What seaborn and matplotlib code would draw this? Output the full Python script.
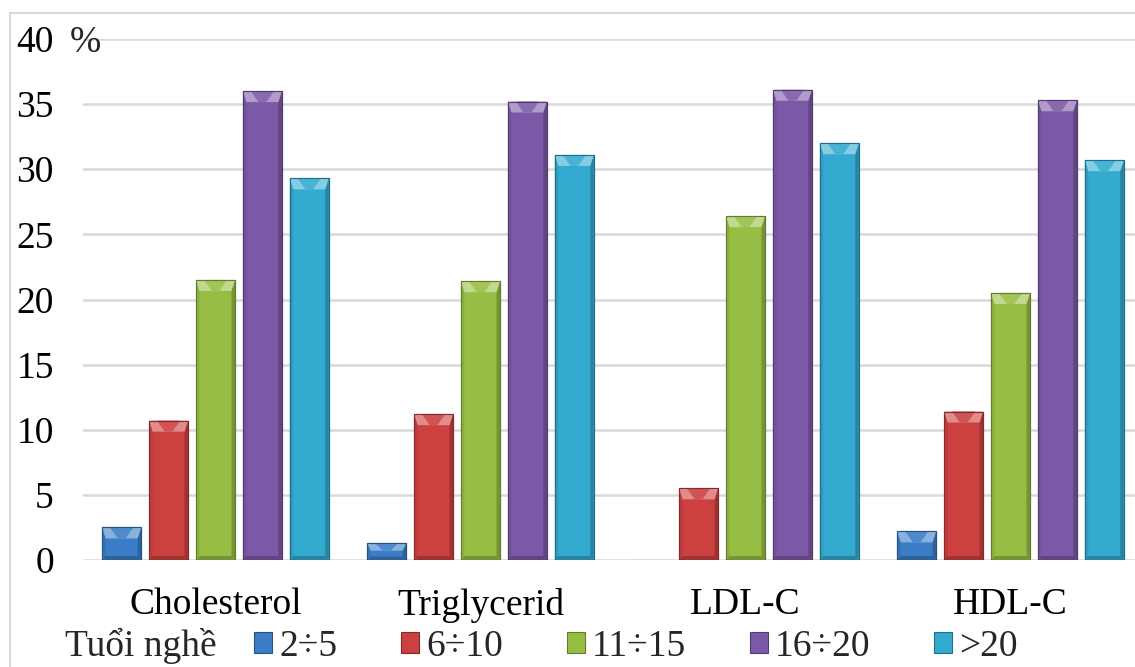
import numpy as np
import pandas as pd
import seaborn as sns
import matplotlib
matplotlib.use("Agg")
import matplotlib.pyplot as plt
from matplotlib.patches import Polygon, Rectangle, Patch
from matplotlib.colors import to_rgb

# ---- data -------------------------------------------------------------
chi_so = ["Cholesterol", "Triglycerid", "LDL-C", "HDL-C"]
nhom_tuoi_nghe = ["2÷5", "6÷10", "11÷15", "16÷20", ">20"]
v_2_5 = [2.5, 1.3, 0.0, 2.2]
v_6_10 = [10.7, 11.2, 5.5, 11.4]
v_11_15 = [21.5, 21.4, 26.4, 20.5]
v_16_20 = [36.0, 35.2, 36.1, 35.3]
v_tren_20 = [29.3, 31.1, 32.0, 30.7]
y_ticks = [0, 5, 10, 15, 20, 25, 30, 35, 40]

colors = ["#3b7dc6", "#cc4040", "#97be44", "#7c59a6", "#33abd0"]

series = [v_2_5, v_6_10, v_11_15, v_16_20, v_tren_20]
df = pd.DataFrame(
    [(c, g, vals[i]) for g, vals in zip(nhom_tuoi_nghe, series) for i, c in enumerate(chi_so)],
    columns=["chi_so", "tuoi_nghe", "ty_le"],
)

# ---- style ------------------------------------------------------------
sns.set_theme(style="white")
plt.rcParams["font.family"] = ["Liberation Serif", "DejaVu Serif"]
FS = 27

W, H = 1135, 667
fig = plt.figure(figsize=(W / 100, H / 100), dpi=100)
ax = fig.add_axes([83 / W, (H - 560) / H, 1060 / W, 521 / H])

sns.barplot(
    data=df, x="chi_so", y="ty_le", hue="tuoi_nghe",
    order=chi_so, hue_order=nhom_tuoi_nghe, palette=colors,
    width=0.885, dodge=True, saturation=1, legend=False, ax=ax,
)

ax.set_xlim(-0.5, 3.5)
ax.set_ylim(0, 40)
ax.set_yticks(y_ticks)
ax.set_yticklabels([str(t) for t in y_ticks], fontsize=FS, color="black")
ax.tick_params(axis="y", length=0, pad=21)
ax.tick_params(axis="x", length=0, pad=20, labelsize=FS, labelcolor="black")
ax.set_xlabel("")
ax.set_ylabel("")
for s in ax.spines.values():
    s.set_visible(False)
ax.yaxis.grid(True, color="#d9d9d9", lw=1.8)
ax.set_axisbelow(True)

# unit "%" beside the top tick
ax.annotate("%", xy=(0, 40), xycoords=("axes fraction", "data"),
            xytext=(-9.5, 0), textcoords="offset points",
            ha="left", va="center_baseline", fontsize=FS)


def mix(c, other, t):
    a = np.array(to_rgb(c))
    b = np.array(to_rgb(other))
    return tuple(a * (1 - t) + b * t)


# ---- narrow the bars and give them a bevelled look ------------------
x_per_px = 4.0 / 1060
y_per_px = 40.0 / 521
for container, col in zip(ax.containers, colors):
    light = mix(col, "white", 0.40)
    mid = mix(col, "white", 0.10)
    dark = mix(col, "black", 0.22)
    edge = mix(col, "black", 0.35)
    for p in container:
        cx = p.get_x() + p.get_width() / 2
        w = p.get_width() * 39 / 47
        p.set_width(w)
        p.set_x(cx - w / 2)
        h = p.get_height()
        p.set_edgecolor(edge)
        p.set_linewidth(0.8)
        if h <= 0:
            continue
        x0, x1 = cx - w / 2, cx + w / 2
        sx = 3.5 * x_per_px
        tb = min(11 * y_per_px, h * 0.45)
        bb = min(4 * y_per_px, h * 0.2)
        z = p.get_zorder() + 0.1
        # side facets
        ax.add_patch(Polygon([(x0, 0), (x0 + sx, bb), (x0 + sx, h - tb), (x0, h)],
                             closed=True, fc=mix(col, "black", 0.08), ec="none", zorder=z))
        ax.add_patch(Polygon([(x1, 0), (x1 - sx, bb), (x1 - sx, h - tb), (x1, h)],
                             closed=True, fc=dark, ec="none", zorder=z))
        # bottom facet
        ax.add_patch(Polygon([(x0, 0), (x1, 0), (x1 - sx, bb), (x0 + sx, bb)],
                             closed=True, fc=dark, ec="none", zorder=z))
        # top facet
        ax.add_patch(Polygon([(x0, h), (x1, h), (x1 - sx, h - tb), (x0 + sx, h - tb)],
                             closed=True, fc=light, ec="none", zorder=z))
        ax.add_patch(Polygon([(x0 + w * 0.2, h), (x1 - w * 0.2, h), (cx + w * 0.1, h - tb), (cx - w * 0.1, h - tb)],
                             closed=True, fc=mid, ec="none", zorder=z))
        ax.add_patch(Rectangle((x0, 0), w, h, fill=False, ec=edge, lw=0.8, zorder=z + 0.1))

# ---- legend -----------------------------------------------------------
handles = [Patch(facecolor=c, edgecolor=mix(c, "black", 0.35), linewidth=0.8) for c in colors]
leg = fig.legend(
    handles, nhom_tuoi_nghe, loc="center left",
    bbox_to_anchor=(254 / W, 1 - 647 / H), ncol=5, frameon=False,
    fontsize=FS, handlelength=0.48, handleheight=0.48, handletextpad=0.19,
    columnspacing=1.7, borderpad=0, borderaxespad=0,
)
fig.canvas.draw()
bb0 = leg.get_texts()[0].get_window_extent()
fig.text(65 / W, bb0.y0 / H, "Tuổi nghề", fontsize=FS, ha="left", va="bottom")

# chart frame
fig.add_artist(Rectangle((10 / W, -0.05), 1.0, 1 - 13 / H + 0.05, transform=fig.transFigure,
                         fill=False, ec="#d9d9d9", lw=1.5))

fig.savefig("out.png", dpi=100)
